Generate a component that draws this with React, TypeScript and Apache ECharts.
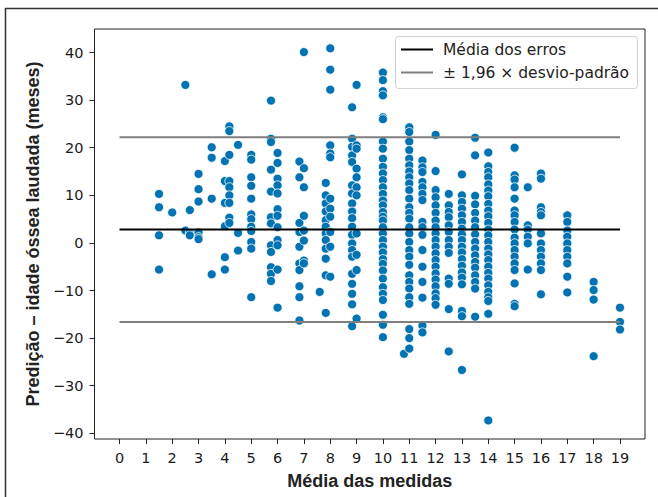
import { useEffect, useRef } from "react";
import * as echarts from "echarts";

// ---- axis ticks ----
const xTicks = [0, 1, 2, 3, 4, 5, 6, 7, 8, 9, 10, 11, 12, 13, 14, 15, 16, 17, 18, 19];
const yTicks = [-40, -30, -20, -10, 0, 10, 20, 30, 40];

// ---- reference lines ----
const meanError = 2.8;
const upperLimit = 22.2;
const lowerLimit = -16.6;
const lineFrom = 0;
const lineTo = 19;

// ---- scatter values, one array per x position (Média das medidas) ----
const y_1_5 = [10.3, 7.5, 1.6, -5.6];
const y_2_0 = [6.4];
const y_2_5 = [33.2, 2.6];
const y_2_67 = [6.9, 2.1, 1.6];
const y_3_0 = [14.5, 11.3, 8.7, 2.2, 1.2, 0.8];
const y_3_5 = [20.1, 17.9, 9.3, -6.6];
const y_4_0 = [17.2, 13.0, 8.4, 3.5, -3.0, -5.6];
const y_4_17 = [24.5, 23.5, 18.5, 13.0, 11.7, 10.0, 8.4, 5.3, 4.2];
const y_4_5 = [20.6, 2.1, -1.6];
const y_5_0 = [18.5, 17.5, 13.8, 12.0, 9.3, 6.0, 5.0, 3.4, 2.5, 0.2, -1.2, -11.4];
const y_5_75 = [29.9, 21.9, 21.2, 15.4, 10.8, 5.4, 4.1, -0.5, -1.9, -5.1, -6.5, -8.0];
const y_6_0 = [18.9, 16.8, 13.5, 12.1, 10.4, 7.1, 5.7, 3.3, 0.6, -0.5, -5.6, -13.6];
const y_6_83 = [17.1, 13.8, 4.2, 2.3, -0.8, -4.3, -5.7, -9.1, -11.4, -16.3];
const y_7_0 = [40.1, 15.7, 11.7, 5.7, 2.6, 0.5, -3.7, -4.3];
const y_7_6 = [-10.3];
const y_7_83 = [12.6, 10.0, 8.3, 6.6, 4.8, 3.4, 2.0, 0.6, -1.2, -3.3, -6.8, -14.7];
const y_8_0 = [40.9, 36.4, 32.2, 20.5, 18.8, 18.0, 9.3, 7.2, 5.5, 2.3, -0.8, -7.1];
const y_8_83 = [28.5, 21.9, 20.2, 18.4, 17.0, 12.1, 10.4, 8.3, 6.6, 5.2, 3.4, 1.7, -0.1, -1.5, -2.9, -6.5, -8.6, -10.7, -12.9, -17.5];
const y_9_0 = [33.2, 20.5, 19.8, 15.6, 13.8, 11.7, 10.0, 2.0, -2.5, -5.7, -15.9];
const y_10_0 = [35.8, 34.2, 31.9, 31.0, 26.4, 26.0, 21.3, 19.8, 17.7, 16.0, 14.6, 13.2, 11.7, 10.3, 8.9, 7.9, 6.5, 5.5, 4.7, 3.3, 2.0, 0.6, -0.8, -2.0, -3.4, -4.4, -5.8, -7.5, -9.3, -10.7, -12.0, -15.1, -17.2, -19.8];
const y_10_8 = [-23.3];
const y_11_0 = [24.3, 23.3, 21.3, 19.5, 17.7, 16.3, 15.0, 13.8, 12.5, 11.1, 9.3, 7.5, 6.3, 5.1, 3.3, 2.0, 0.2, -1.5, -2.9, -4.6, -6.8, -8.2, -9.6, -11.4, -12.8, -18.1, -20.0, -22.2];
const y_11_5 = [17.3, 15.9, 14.9, 12.8, 11.7, 10.3, 9.0, 4.4, 3.3, 1.7, -1.5, -5.0, -8.2, -11.5, -17.4, -18.8];
const y_12_0 = [22.7, 15.1, 11.1, 9.6, 7.9, 6.3, 4.7, 3.3, 2.0, 0.6, -0.8, -2.2, -3.6, -5.0, -6.4, -7.7, -9.1, -10.6, -11.6, -13.0];
const y_12_5 = [10.3, 7.9, 6.5, 5.4, 3.7, 2.3, 0.6, -0.8, -2.1, -7.5, -8.6, -13.9, -22.8];
const y_13_0 = [14.4, 10.0, 8.6, 7.2, 5.8, 4.4, 3.0, 1.8, 0.6, -0.8, -2.0, -3.4, -4.8, -6.2, -7.3, -8.7, -14.3, -15.4, -26.7];
const y_13_5 = [22.1, 18.4, 9.9, 8.1, 6.3, 4.7, 3.3, 1.8, 0.2, -1.2, -2.6, -4.0, -5.2, -6.8, -8.2, -9.6, -15.5];
const y_14_0 = [19.0, 16.1, 14.9, 13.8, 12.3, 11.0, 9.8, 8.2, 6.8, 5.6, 4.2, 2.8, 1.6, 0.2, -1.2, -2.4, -3.6, -5.0, -6.3, -7.5, -8.9, -10.3, -11.4, -12.2, -14.9, -37.3];
const y_15_0 = [20.0, 14.2, 13.3, 11.7, 9.3, 6.8, 5.8, 4.4, 2.8, 1.1, -0.1, -1.5, -2.9, -4.3, -5.7, -8.5, -12.8, -13.3];
const y_15_5 = [11.7, 3.7, 2.8, 1.3, -0.1, -5.6];
const y_16_0 = [14.6, 13.5, 7.5, 6.5, 5.8, 2.0, -0.1, -1.5, -2.9, -4.3, -5.7, -10.8];
const y_17_0 = [5.8, 4.4, 2.6, 1.3, -0.1, -1.5, -2.9, -4.3, -7.1, -10.4];
const y_18_0 = [-8.2, -9.9, -11.9, -23.8];
const y_19_0 = [-13.6, -16.6, -18.2];

const columnX = [1.5, 2, 2.5, 2.67, 3, 3.5, 4, 4.17, 4.5, 5, 5.75, 6, 6.83, 7, 7.6, 7.83, 8, 8.83, 9, 10, 10.8, 11, 11.5, 12, 12.5, 13, 13.5, 14, 15, 15.5, 16, 17, 18, 19];
const columnY = [y_1_5, y_2_0, y_2_5, y_2_67, y_3_0, y_3_5, y_4_0, y_4_17, y_4_5, y_5_0, y_5_75, y_6_0, y_6_83, y_7_0, y_7_6, y_7_83, y_8_0, y_8_83, y_9_0, y_10_0, y_10_8, y_11_0, y_11_5, y_12_0, y_12_5, y_13_0, y_13_5, y_14_0, y_15_0, y_15_5, y_16_0, y_17_0, y_18_0, y_19_0];

const legendLabels = ["Média dos erros", "± 1,96 × desvio-padrão"];

const tickFont = "DejaVu Sans";
const titleFont = "Liberation Sans";

export default function App() {
  const ref = useRef<HTMLDivElement>(null);

  useEffect(() => {
    if (!ref.current) return;
    const chart = echarts.init(ref.current, undefined, { renderer: "svg" });

    const points: number[][] = [];
    columnX.forEach((x, i) => {
      columnY[i].forEach((y) => points.push([x, y]));
    });

    const fmt = (v: number) => (v < 0 ? "\u2212" + Math.abs(v) : String(v));

    chart.setOption({
      animation: false,
      backgroundColor: "#ffffff",
      grid: {
        left: 94.5,
        top: 29,
        width: 550.5,
        height: 410,
        show: true,
        borderColor: "#222",
        borderWidth: 1,
        backgroundColor: "transparent",
        outerBoundsMode: "none",
      },
      xAxis: {
        type: "value",
        min: -0.95,
        max: 19.95,
        name: "Média das medidas",
        nameLocation: "middle",
        nameGap: 33,
        nameTextStyle: { fontFamily: titleFont, fontWeight: "bold", fontSize: 18, color: "#222" },
        splitLine: { show: false },
        axisLine: { show: false, onZero: false },
        axisTick: { show: true, length: 5, customValues: xTicks, lineStyle: { color: "#222", width: 1 } },
        axisLabel: {
          customValues: xTicks,
          margin: 11,
          fontFamily: tickFont,
          fontSize: 14.5,
          color: "#1a1a1a",
          formatter: fmt,
        },
      },
      yAxis: {
        type: "value",
        min: -41.2,
        max: 44.95,
        name: "Predição – idade óssea laudada (meses)",
        nameLocation: "middle",
        nameGap: 52,
        nameTextStyle: { fontFamily: titleFont, fontWeight: "bold", fontSize: 18, color: "#222" },
        splitLine: { show: false },
        axisLine: { show: false, onZero: false },
        axisTick: { show: true, length: 5, customValues: yTicks, lineStyle: { color: "#222", width: 1 } },
        axisLabel: {
          customValues: yTicks,
          margin: 11,
          fontFamily: tickFont,
          fontSize: 14.5,
          color: "#1a1a1a",
          formatter: fmt,
        },
      },
      series: [
        {
          type: "scatter",
          data: points,
          symbolSize: 9,
          itemStyle: { color: "#0173b2", borderColor: "#ffffff", borderWidth: 0.8, opacity: 1 },
          z: 2,
        },
        {
          type: "line",
          data: [[lineFrom, meanError], [lineTo, meanError]],
          symbol: "none",
          lineStyle: { color: "#000000", width: 2 },
          z: 3,
        },
        {
          type: "line",
          data: [[lineFrom, upperLimit], [lineTo, upperLimit]],
          symbol: "none",
          lineStyle: { color: "#7f7f7f", width: 2 },
          z: 3,
        },
        {
          type: "line",
          data: [[lineFrom, lowerLimit], [lineTo, lowerLimit]],
          symbol: "none",
          lineStyle: { color: "#7f7f7f", width: 2 },
          z: 3,
        },
      ],
      graphic: [
        {
          type: "rect",
          shape: { x: 5.5, y: 8.5, width: 700, height: 600 },
          style: { fill: "none", stroke: "#333", lineWidth: 1.5 },
          silent: true,
          z: 1,
        },
        {
          type: "group",
          z: 100,
          children: [
            {
              type: "rect",
              shape: { x: 395.5, y: 36.5, width: 242, height: 52, r: 3 },
              style: { fill: "rgba(255,255,255,0.85)", stroke: "#d0d0d0", lineWidth: 1 },
            },
            {
              type: "line",
              shape: { x1: 401, y1: 49.5, x2: 433, y2: 49.5 },
              style: { stroke: "#000", lineWidth: 2 },
            },
            {
              type: "line",
              shape: { x1: 401, y1: 72.5, x2: 433, y2: 72.5 },
              style: { stroke: "#7f7f7f", lineWidth: 2 },
            },
            {
              type: "text",
              x: 443,
              y: 49.5,
              style: { text: legendLabels[0], fontFamily: tickFont, fontSize: 15.5, fill: "#222", verticalAlign: "middle" },
            },
            {
              type: "text",
              x: 443,
              y: 73,
              style: { text: legendLabels[1], fontFamily: tickFont, fontSize: 15.5, fill: "#222", verticalAlign: "middle" },
            },
          ],
        },
      ],
    });

    return () => chart.dispose();
  }, []);

  return (
    <div
      ref={ref}
      style={{ position: "fixed", left: 0, top: 0, width: 658, height: 497, background: "#fff" }}
    />
  );
}
